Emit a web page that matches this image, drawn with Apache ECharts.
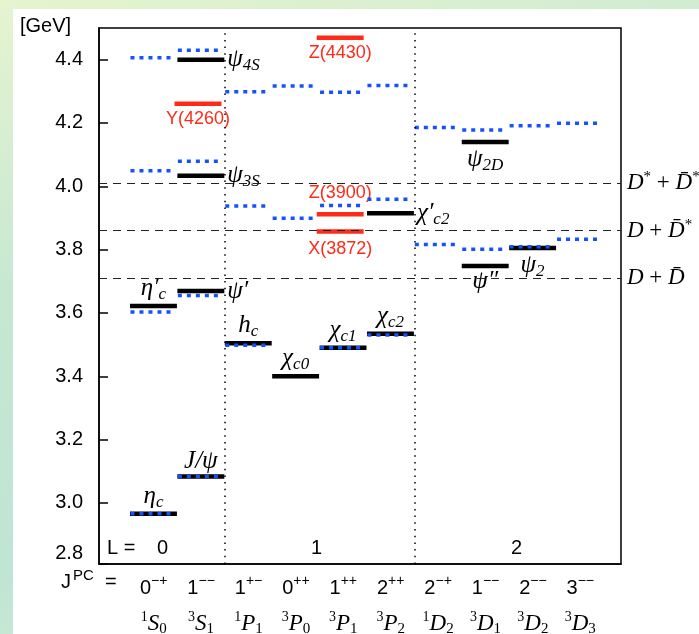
<!DOCTYPE html>
<html>
<head>
<meta charset="utf-8">
<script src="https://cdn.jsdelivr.net/npm/echarts@6/dist/echarts.min.js"></script>
<style>
html, body { margin: 0; padding: 0; }
body {
    width: 699px; height: 634px; position: relative; overflow: hidden;
    background: linear-gradient(165deg, #e6f4cf 0%, #c6e8d2 35%, #bfe5d5 70%, #d9f0cf 100%);
}
#panel { position: absolute; left: 13px; top: 9px; width: 686px; height: 625px; background: #fff; }
#chart { position: absolute; left: 0; top: 0; width: 699px; height: 634px; }
</style>
</head>
<body>
<div id="panel"></div>
<div id="chart"></div>
<script>
// columns of the spectrum (J^PC and spectroscopic term)
var columns = ['0-+', '1--', '1+-', '0++', '1++', '2++', '2-+', '1--', '2--', '3--'];
var terms = ['1S0', '3S1', '1P1', '3P0', '3P1', '3P2', '1D2', '3D1', '3D2', '3D3'];
var lBoundaries = [2, 6];

// open charm thresholds [GeV]
var thresholds = [4.014, 3.861, 3.711];
var thresholdNames = [
    '{d|D}{s|*}{o| + }{d|D\u0304}{s|*}',
    '{d|D}{o| + }{d|D\u0304}{s|*}',
    '{d|D}{o| + }{d|D\u0304}'
];

// observed conventional states (black)
var knownCol = [0, 1, 0, 1, 1, 1, 2, 3, 4, 5, 5, 7, 7, 8];
var knownMass = [2.966, 3.083, 3.622, 3.669, 4.033, 4.400, 3.504, 3.400, 3.490, 3.534, 3.915, 3.748, 4.140, 3.805];
var knownNames = [
    '{i|η}{b|c}', '{i|J/ψ}', '{i|η′}{b|c}', '{i|ψ′}', '{i|ψ}{b|3S}', '{i|ψ}{b|4S}',
    '{i|h}{b|c}', '{i|χ}{b|c0}', '{i|χ}{b|c1}', '{i|χ}{b|c2}', '{i|χ′}{b|c2}',
    '{i|ψ″}', '{i|ψ}{b|2D}', '{i|ψ}{b|2}'
];

// exotic candidates (red)
var exoticCol = [1, 4, 4, 4];
var exoticMass = [4.261, 4.469, 3.912, 3.857];
var exoticNames = ['Y(4260)', 'Z(4430)', 'Z(3900)', 'X(3872)'];

// potential model predictions (blue dotted)
var modelCol = [0, 0, 0, 0, 1, 1, 1, 1, 2, 2, 2, 3, 3, 4, 4, 4, 5, 5, 5, 6, 6, 7, 7, 8, 8, 9, 9];
var modelMass = [2.966, 3.603, 4.049, 4.406, 3.083, 3.655, 4.079, 4.430, 3.498, 3.938, 4.299,
    3.899, 4.317, 3.490, 3.939, 4.297, 3.530, 3.959, 4.318, 3.816, 4.186, 3.801, 4.178,
    3.809, 4.191, 3.833, 4.199];

// label layout
var knownSide = ['top', 'top', 'top', 'right', 'right', 'right', 'top', 'top', 'top', 'top', 'right', 'bottom', 'bottom', 'bottom'];
var exoticSide = ['bottom', 'bottom', 'top', 'bottom'];
var exoticGap = [6, 6, 12, 8];

var serif = '"Liberation Serif", "DejaVu Serif", serif';
var sans = '"Liberation Sans", Arial, sans-serif';

var nameRich = {
    i: { fontFamily: serif, fontStyle: 'italic', fontSize: 25, fill: '#000' },
    b: { fontFamily: serif, fontStyle: 'italic', fontSize: 17, fill: '#000', padding: [12, 0, 0, 0] }
};

function zip(cols, masses) {
    return cols.map(function (c, i) { return [c, masses[i]]; });
}

function levelRender(lineStyle, x0, x1, names, sides, gaps, textStyle) {
    return function (params, api) {
        var c = api.value(0), m = api.value(1);
        var a = api.coord([c + x0, m]);
        var b = api.coord([c + x1, m]);
        var children = [{
            type: 'line',
            shape: { x1: a[0], y1: a[1], x2: b[0], y2: b[1] },
            style: lineStyle
        }];
        if (names) {
            var k = params.dataIndex;
            var side = sides[k];
            var gap = gaps ? gaps[k] : 3;
            var tx = (a[0] + b[0]) / 2, ty = a[1], al = 'center', va = 'middle';
            if (side === 'top') { ty = a[1] - gap; va = 'bottom'; }
            else if (side === 'bottom') { ty = a[1] + gap; va = 'top'; }
            else { tx = b[0] + 3; al = 'left'; }
            var st = { text: names[k], align: al, verticalAlign: va };
            for (var key in textStyle) st[key] = textStyle[key];
            children.push({ type: 'text', x: tx, y: ty, style: st });
        }
        return { type: 'group', children: children };
    };
}

var myChart = echarts.init(document.getElementById('chart'), null, { renderer: 'canvas' });

var markData = thresholds.map(function (t, i) {
    return {
        yAxis: t,
        lineStyle: { type: [8, 6], color: '#222', width: 1.2 },
        label: {
            show: true, position: 'end', distance: 6,
            formatter: thresholdNames[i],
            rich: {
                d: { fontFamily: serif, fontStyle: 'italic', fontSize: 23, color: '#000' },
                o: { fontFamily: serif, fontSize: 23, color: '#000' },
                s: { fontFamily: serif, fontSize: 15, color: '#000', padding: [0, 0, 12, 0] }
            }
        }
    };
}).concat(lBoundaries.map(function (x) {
    return {
        xAxis: x,
        lineStyle: { type: [1.5, 5.2], color: '#000', width: 1.5 },
        label: { show: false }
    };
}));

var option = {
    backgroundColor: 'transparent',
    animation: false,
    grid: [
        { left: 99, top: 28, width: 522, height: 536, show: true, borderColor: '#000', borderWidth: 1.5,
          backgroundColor: 'transparent', containLabel: false, outerBoundsMode: 'none' },
        { left: 130, top: 28, width: 474, height: 536, show: false, containLabel: false, outerBoundsMode: 'none' }
    ],
    xAxis: [
        { type: 'value', gridIndex: 0, min: -0.654, max: 10.36,
          axisLine: { show: true, onZero: false, lineStyle: { color: '#000', width: 1.5 } },
          axisTick: { show: false }, axisLabel: { show: false }, splitLine: { show: false } },
        { type: 'category', gridIndex: 1, data: columns, position: 'bottom',
          axisLine: { show: false }, axisTick: { show: false }, splitLine: { show: false },
          axisLabel: {
              interval: 0, margin: 10,
              formatter: function (v) {
                  return '{n|' + v[0] + '}{s|' + v.slice(1).replace(/-/g, '\u2212') + '}';
              },
              rich: {
                  n: { fontFamily: sans, fontSize: 20, color: '#000' },
                  s: { fontFamily: sans, fontSize: 14, color: '#000', padding: [0, 0, 14, 0] }
              }
          } },
        { type: 'category', gridIndex: 1, data: terms, position: 'bottom', offset: 36,
          axisLine: { show: false }, axisTick: { show: false }, splitLine: { show: false },
          axisLabel: {
              interval: 0, margin: 10,
              formatter: function (t) {
                  return '{p|' + t[0] + '}{t|' + t[1] + '}{b|' + t[2] + '}';
              },
              rich: {
                  p: { fontFamily: serif, fontSize: 14, color: '#000', padding: [0, 0, 12, 0] },
                  t: { fontFamily: serif, fontStyle: 'italic', fontSize: 23, color: '#000' },
                  b: { fontFamily: serif, fontSize: 15, color: '#000', padding: [12, 0, 0, 0] }
              }
          } }
    ],
    yAxis: [
        { type: 'value', gridIndex: 0, min: 2.807, max: 4.5, splitNumber: 8,
          minInterval: 0.2, maxInterval: 0.2,
          axisLine: { show: true, onZero: false, lineStyle: { color: '#000', width: 1.5 } },
          axisTick: { show: true, inside: true, length: 9, lineStyle: { color: '#000', width: 1.5 } },
          splitLine: { show: false },
          axisLabel: {
              margin: 16, showMaxLabel: false, color: '#000', fontFamily: sans, fontSize: 20,
              formatter: function (v) {
                  if (Math.abs(v - 2.807) < 0.01) return '{lo|2.8}';
                  return v.toFixed(1);
              },
              rich: { lo: { fontFamily: sans, fontSize: 20, color: '#000', padding: [0, 0, 22, 0] } }
          } },
        { type: 'value', gridIndex: 1, min: 2.807, max: 4.5, show: false }
    ],
    series: [
        {
            name: 'thresholds', type: 'custom', xAxisIndex: 0, yAxisIndex: 0, clip: false,
            data: [],
            renderItem: function () { return null; },
            markLine: { silent: true, symbol: 'none', animation: false, data: markData }
        },
        {
            name: 'observed', type: 'custom', xAxisIndex: 0, yAxisIndex: 0, clip: false,
            data: zip(knownCol, knownMass),
            renderItem: levelRender({ stroke: '#000', lineWidth: 4.5 }, 0, 0.99,
                knownNames, knownSide, null, { rich: nameRich, fill: '#000' })
        },
        {
            name: 'exotic', type: 'custom', xAxisIndex: 0, yAxisIndex: 0, clip: false,
            data: zip(exoticCol, exoticMass),
            renderItem: levelRender({ stroke: '#ff2a18', lineWidth: 4.5 }, -0.06, 0.93,
                exoticNames, exoticSide, exoticGap,
                { fill: '#ff2a18', font: '18px ' + sans })
        },
        {
            name: 'model', type: 'custom', xAxisIndex: 0, yAxisIndex: 0, clip: false,
            data: zip(modelCol, modelMass),
            renderItem: levelRender({ stroke: '#1452ff', lineWidth: 3.5, lineDash: [4, 5] }, 0.01, 0.96)
        }
    ],
    graphic: [
        { type: 'text', left: 20, top: 16, style: { text: '[GeV]', font: '20px ' + sans, fill: '#000' } },
        { type: 'text', left: 61, top: 568, style: {
            text: '{j|J}{s|PC}{e|  =}',
            rich: {
                j: { fontFamily: sans, fontSize: 20, fill: '#000' },
                s: { fontFamily: sans, fontSize: 15, fill: '#000', padding: [0, 0, 14, 2] },
                e: { fontFamily: sans, fontSize: 20, fill: '#000' }
            } } },
        { type: 'text', left: 107, top: 538, style: { text: 'L =', font: '20px ' + sans, fill: '#000' } },
        { type: 'text', left: 157, top: 538, style: { text: '0', font: '20px ' + sans, fill: '#000' } },
        { type: 'text', left: 311, top: 538, style: { text: '1', font: '20px ' + sans, fill: '#000' } },
        { type: 'text', left: 511, top: 538, style: { text: '2', font: '20px ' + sans, fill: '#000' } }
    ]
};

myChart.setOption(option);
window.onresize = myChart.resize;
</script>
</body>
</html>
